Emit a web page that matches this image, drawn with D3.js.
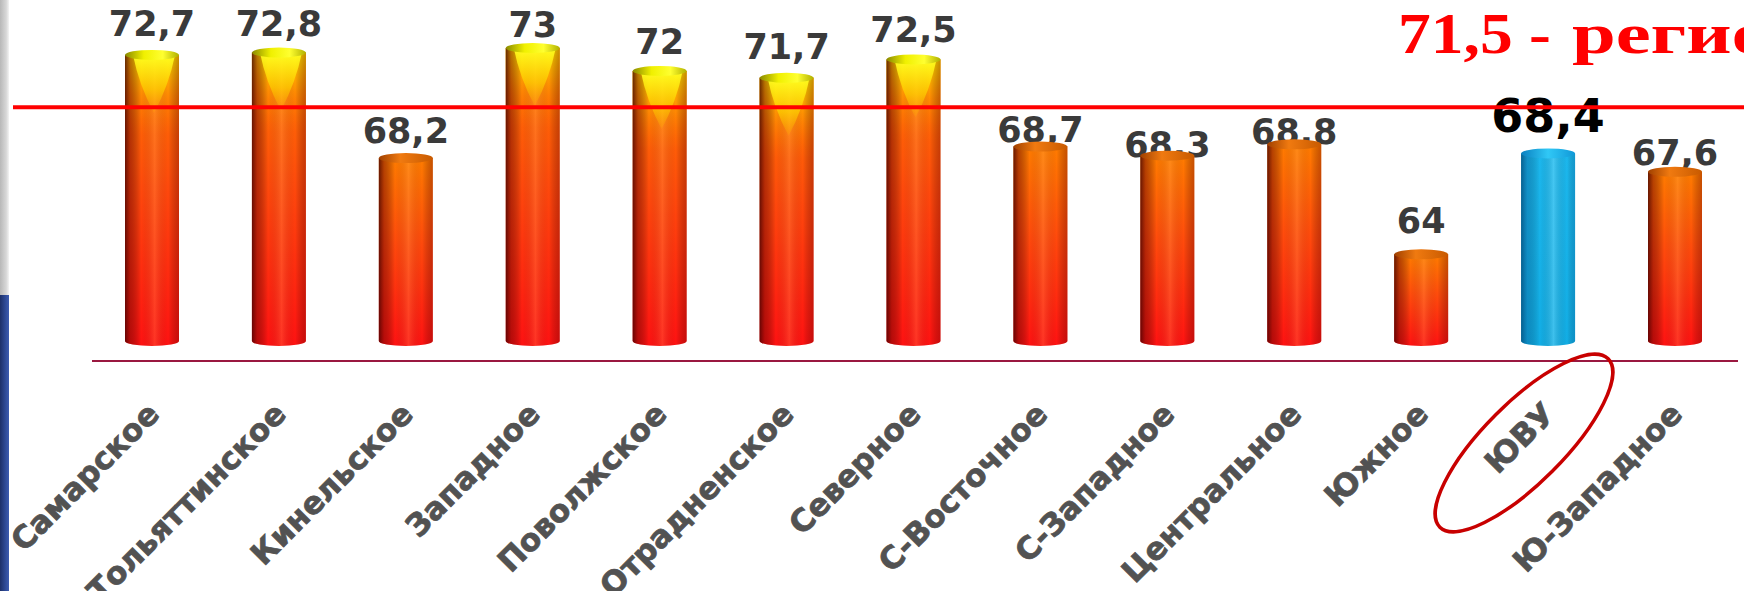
<!DOCTYPE html>
<html>
<head>
<meta charset="utf-8">
<script src="https://cdn.jsdelivr.net/npm/d3@7"></script>
<style>
  html, body { margin: 0; padding: 0; background: #fff; overflow: hidden; }
  svg { display: block; }
</style>
</head>
<body>
<div id="chart"></div>
<script>
// data
var regions = ["Самарское", "Тольяттинское", "Кинельское", "Западное", "Поволжское",
  "Отрадненское", "Северное", "С-Восточное", "С-Западное", "Центральное",
  "Южное", "ЮВУ", "Ю-Западное"]
var values = [72.7, 72.8, 68.2, 73, 72, 71.7, 72.5, 68.7, 68.3, 68.8, 64, 68.4, 67.6]
var valueLabels = ["72,7", "72,8", "68,2", "73", "72", "71,7", "72,5", "68,7", "68,3", "68,8", "64", "68,4", "67,6"]
var highlight = "ЮВУ"
var regionValue = 71.5
var regionValueLabel = "71,5 -"
var regionLineLevel = 70.2 // where the red line actually sits on the slide
var regionCaption = "региональный показатель"

// label nudges as placed on the slide (px)
var labelDrop = [-4, -2, 0, 4, -2, -4, -2, 10, 16, 15, -6, 0, 8]

var W = 1744, H = 591

var svg = d3.select("#chart").append("svg")
  .attr("width", W)
  .attr("height", H)

var defs = svg.append("defs")

var grad = function (id, x2, y2, stops) {
  var g = defs.append("linearGradient")
    .attr("id", id)
    .attr("x1", 0).attr("y1", 0)
    .attr("x2", x2).attr("y2", y2)
  stops.forEach(function (s) {
    g.append("stop")
      .attr("offset", s[0])
      .attr("stop-color", s[1])
      .attr("stop-opacity", s[2] == null ? 1 : s[2])
  })
}

grad("bodyRed", 0, 1, [[0, "#ff7c00"], [0.45, "#ff4a0c"], [1, "#ff1212"]])
grad("bodyBlue", 0, 1, [[0, "#1cb8ee"], [1, "#12aee6"]])
grad("shade", 1, 0, [[0, "#400000", 0.8], [0.1, "#600000", 0.45], [0.3, "#000", 0],
  [0.55, "#ffd080", 0.18], [0.8, "#000", 0], [1, "#600000", 0.35]])
grad("shadeBlue", 1, 0, [[0, "#003a66", 0.7], [0.12, "#004a80", 0.35], [0.35, "#000", 0],
  [0.6, "#c0f4ff", 0.25], [0.85, "#000", 0], [1, "#004a80", 0.3]])
grad("capRed", 1, 0, [[0, "#a04000"], [0.4, "#f07a10"], [1, "#c85a00"]])
grad("capBlue", 1, 0, [[0, "#0a80c0"], [0.5, "#30c8f6"], [1, "#1098d8"]])
grad("capYellow", 1, 0, [[0, "#8a8a00"], [0.35, "#f0f000"], [0.7, "#ffff30"], [1, "#b0b000"]])
grad("glow", 0, 1, [[0, "#ffee00", 0.85], [0.5, "#ffc000", 0.35], [1, "#ff8000", 0]])
grad("cone", 0, 1, [[0, "#ffff20", 0.95], [0.6, "#ffd000", 0.7], [1, "#ffb000", 0.2]])
grad("edgeGray", 1, 0, [[0, "#b8b8b8"], [0.7, "#d8d8d8"], [1, "#f4f4f4"]])
grad("edgeBlue", 1, 0, [[0, "#1c2f68"], [0.6, "#2e4a96"], [1, "#3d5cb0"]])

// slide edge
svg.append("rect").attr("x", 0).attr("y", 0).attr("width", 9).attr("height", 295).attr("fill", "url(#edgeGray)")
svg.append("rect").attr("x", 0).attr("y", 295).attr("width", 9).attr("height", H - 295).attr("fill", "url(#edgeBlue)")

var x = d3.scalePoint()
  .domain(regions)
  .range([152, 1675])

var y = d3.scaleLinear()
  .domain([60, 73])
  .range([341, 43])

var bw = 54, rx = bw / 2, ry = 5

var data = regions.map(function (r, i) {
  return { region: r, value: values[i], label: valueLabels[i], drop: labelDrop[i] }
})

// baseline
svg.append("line")
  .attr("x1", 92).attr("x2", 1738)
  .attr("y1", 361).attr("y2", 361)
  .attr("stroke", "#9a1840")
  .attr("stroke-width", 2.2)

var bar = svg.append("g")
  .selectAll("g")
  .data(data)
  .join("g")
  .attr("transform", function (d) { return "translate(" + x(d.region) + ",0)" })

// value labels go under the bars, the slide has some tucked behind the caps
bar.append("text")
  .attr("x", 0)
  .attr("y", function (d) { return y(d.value) - (d.region == highlight ? 16 : 10) + d.drop })
  .attr("text-anchor", "middle")
  .attr("font-family", "DejaVu Sans")
  .attr("font-weight", "bold")
  .attr("font-size", function (d) { return d.region == highlight ? 46 : 35 })
  .attr("fill", function (d) { return d.region == highlight ? "#000" : "#3a3a3a" })
  .text(function (d) { return d.label })

var bodyPath = function (d) {
  var top = y(d.value) + ry, bot = y(60)
  return "M" + (-rx) + "," + top + "L" + (-rx) + "," + bot +
    "A" + rx + "," + ry + " 0 0 0 " + rx + "," + bot +
    "L" + rx + "," + top + "Z"
}

bar.append("path")
  .attr("d", bodyPath)
  .attr("fill", function (d) { return d.region == highlight ? "url(#bodyBlue)" : "url(#bodyRed)" })

bar.filter(function (d) { return d.value > regionValue })
  .append("rect")
  .attr("x", -rx).attr("width", bw)
  .attr("y", function (d) { return y(d.value) + ry })
  .attr("height", 80)
  .attr("fill", "url(#glow)")

bar.append("path")
  .attr("d", bodyPath)
  .attr("fill", function (d) { return d.region == highlight ? "url(#shadeBlue)" : "url(#shade)" })

bar.filter(function (d) { return d.value > regionValue })
  .append("path")
  .attr("d", function (d) {
    var t = y(d.value) + ry
    return "M" + (-rx + 8) + "," + t + "L" + (rx - 4) + "," + t +
      "Q" + (rx - 10) + "," + (t + 30) + " 2," + (t + 58) +
      "Q" + (-rx + 14) + "," + (t + 30) + " " + (-rx + 8) + "," + t + "Z"
  })
  .attr("fill", "url(#cone)")

bar.append("ellipse")
  .attr("cx", 0)
  .attr("cy", function (d) { return y(d.value) + ry })
  .attr("rx", rx).attr("ry", ry)
  .attr("fill", function (d) {
    if (d.region == highlight) return "url(#capBlue)"
    return d.value > regionValue ? "url(#capYellow)" : "url(#capRed)"
  })

// category labels
svg.append("g")
  .selectAll("text")
  .data(data)
  .join("text")
  .attr("transform", function (d) { return "translate(" + (x(d.region) + 9) + ",416) rotate(-45)" })
  .attr("text-anchor", "end")
  .attr("font-family", "DejaVu Sans")
  .attr("font-weight", "bold")
  .attr("font-size", 31)
  .attr("fill", "#525252")
  .attr("stroke", "#525252")
  .attr("stroke-width", 0.8)
  .text(function (d) { return d.region })

// regional level
svg.append("line")
  .attr("x1", 13).attr("x2", W)
  .attr("y1", y(regionLineLevel)).attr("y2", y(regionLineLevel))
  .attr("stroke", "#ff0000")
  .attr("stroke-width", 4)

var titleFont = function (sel) {
  sel.attr("font-family", "Liberation Serif")
    .attr("font-weight", "bold")
    .attr("font-size", 57)
    .attr("fill", "#ff0000")
}

var head = svg.append("text")
  .attr("transform", "translate(1398,53) scale(1.15,1)")
  .call(titleFont)
  .text(regionValueLabel)

var headEnd = 1398 + head.node().getComputedTextLength() * 1.15 + 21

svg.append("text")
  .attr("transform", "translate(" + headEnd + ",53) scale(1.38,1)")
  .call(titleFont)
  .text(regionCaption)

// ring around the highlighted label
svg.append("ellipse")
  .attr("transform", "translate(1524,443) rotate(-45)")
  .attr("rx", 119).attr("ry", 40)
  .attr("fill", "none")
  .attr("stroke", "#c80000")
  .attr("stroke-width", 3.5)
</script>
</body>
</html>
